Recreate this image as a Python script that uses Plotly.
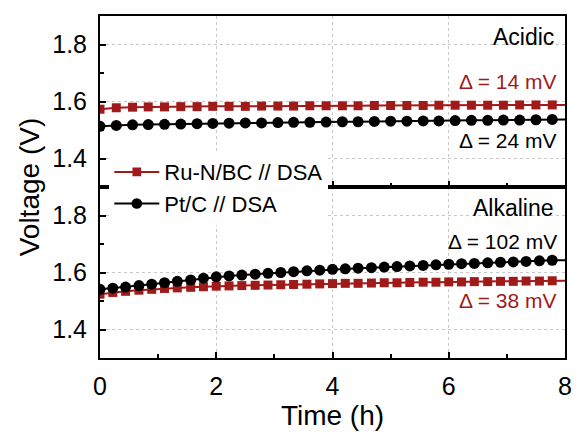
import plotly.graph_objects as go

# ---------------- data ----------------
t_acid = [0.00, 0.28, 0.56, 0.83, 1.11, 1.39, 1.67, 1.94, 2.22, 2.50, 2.78, 3.06, 3.33, 3.61, 3.89,
          4.17, 4.44, 4.72, 5.00, 5.28, 5.56, 5.83, 6.11, 6.39, 6.67, 6.94, 7.22, 7.50, 7.78, 8.00]
ru_acid = [1.573, 1.578, 1.580, 1.581, 1.581, 1.582, 1.582, 1.583, 1.583, 1.583, 1.584, 1.584, 1.584,
           1.585, 1.585, 1.585, 1.585, 1.586, 1.586, 1.586, 1.586, 1.587, 1.587, 1.587, 1.587, 1.587,
           1.588, 1.588, 1.588, 1.588]
pt_acid = [1.513, 1.516, 1.518, 1.519, 1.520, 1.521, 1.522, 1.523, 1.524, 1.525, 1.525, 1.526, 1.527,
           1.527, 1.528, 1.529, 1.529, 1.530, 1.531, 1.531, 1.532, 1.532, 1.533, 1.534, 1.534, 1.535,
           1.535, 1.536, 1.537, 1.537]

t_alk = [0.00, 0.22, 0.44, 0.67, 0.89, 1.11, 1.33, 1.56, 1.78, 2.00, 2.22, 2.44, 2.67, 2.89, 3.11,
         3.33, 3.56, 3.78, 4.00, 4.22, 4.44, 4.67, 4.89, 5.11, 5.33, 5.56, 5.78, 6.00, 6.22, 6.44,
         6.67, 6.89, 7.11, 7.33, 7.56, 7.78, 8.00]
ru_alk = [1.524, 1.530, 1.534, 1.538, 1.541, 1.544, 1.546, 1.548, 1.550, 1.552, 1.553, 1.554, 1.555,
          1.556, 1.557, 1.558, 1.559, 1.560, 1.561, 1.562, 1.562, 1.563, 1.564, 1.564, 1.565, 1.566,
          1.566, 1.567, 1.567, 1.568, 1.568, 1.569, 1.569, 1.570, 1.570, 1.571, 1.571]
pt_alk = [1.541, 1.545, 1.549, 1.554, 1.559, 1.564, 1.569, 1.574, 1.580, 1.585, 1.588, 1.591, 1.594,
          1.597, 1.600, 1.603, 1.606, 1.608, 1.611, 1.613, 1.615, 1.617, 1.619, 1.621, 1.623, 1.625,
          1.627, 1.629, 1.631, 1.632, 1.634, 1.636, 1.637, 1.639, 1.641, 1.643, 1.643]

series_names = ["Ru-N/BC // DSA", "Pt/C // DSA"]
panel_labels = ["Acidic", "Alkaline"]
delta_acid = ["Δ = 14 mV", "Δ = 24 mV"]
delta_alk = ["Δ = 38 mV", "Δ = 102 mV"]
x_ticks = [0, 2, 4, 6, 8]
y_ticks = [1.4, 1.6, 1.8]

RED = "#a11a1a"
BLACK = "#000000"
FONT = "Arial, Liberation Sans, sans-serif"

def sizes(n, s):
    # last point only carries the line to the panel edge
    return [s] * (n - 1) + [0]

def mk(symbol, n, s, color):
    return dict(symbol=symbol, size=sizes(n, s), color=color, opacity=1,
                line=dict(width=0, color=color))

fig = go.Figure()

# top panel (acidic)
fig.add_trace(go.Scatter(x=t_acid, y=ru_acid, mode="lines+markers", name=series_names[0],
                         line=dict(color=RED, width=2), marker=mk("square", len(t_acid), 9, RED),
                         xaxis="x2", yaxis="y2", legendrank=1))
fig.add_trace(go.Scatter(x=t_acid, y=pt_acid, mode="lines+markers", name=series_names[1],
                         line=dict(color=BLACK, width=2), marker=mk("circle", len(t_acid), 11, BLACK),
                         xaxis="x2", yaxis="y2", legendrank=2))
# bottom panel (alkaline)
fig.add_trace(go.Scatter(x=t_alk, y=ru_alk, mode="lines+markers", name=series_names[0],
                         line=dict(color=RED, width=2), marker=mk("square", len(t_alk), 9, RED),
                         xaxis="x", yaxis="y", showlegend=False))
fig.add_trace(go.Scatter(x=t_alk, y=pt_alk, mode="lines+markers", name=series_names[1],
                         line=dict(color=BLACK, width=2), marker=mk("circle", len(t_alk), 11, BLACK),
                         xaxis="x", yaxis="y", showlegend=False))

axis_common = dict(showline=True, linecolor="black", linewidth=2, mirror=True,
                   ticks="inside", ticklen=6, tickwidth=2, tickcolor="black",
                   showgrid=True, gridcolor="#c8c8c8", griddash="dot", gridwidth=1,
                   zeroline=False, tickfont=dict(family=FONT, size=25, color="black"))

fig.update_layout(
    width=581, height=432,
    margin=dict(l=100, r=9, t=16, b=71),
    paper_bgcolor="white", plot_bgcolor="white",
    font=dict(family=FONT, color="black"),
    xaxis=dict(axis_common, range=[0, 8], tickvals=x_ticks, anchor="y",
               minor=dict(ticks="inside", dtick=1, ticklen=4, tickwidth=2, tickcolor="black", showgrid=False),
               ticklabelstandoff=5,
               title=dict(text="Time (h)", font=dict(family=FONT, size=28), standoff=3)),
    xaxis2=dict(axis_common, range=[0, 8], tickvals=x_ticks, anchor="y2", matches="x",
                showticklabels=False,
                minor=dict(ticks="inside", dtick=1, ticklen=4, tickwidth=2, tickcolor="black", showgrid=False)),
    yaxis=dict(axis_common, range=[1.3, 1.9], tickvals=y_ticks, domain=[0, 0.5], anchor="x",
               tickformat=".1f", ticklabelstandoff=6,
               minor=dict(ticks="inside", tickvals=[1.3, 1.5, 1.7], ticklen=4, tickwidth=2,
                          tickcolor="black", showgrid=False)),
    yaxis2=dict(axis_common, range=[1.3, 1.9], tickvals=y_ticks, domain=[0.5, 1], anchor="x2",
                tickformat=".1f", ticklabelstandoff=6,
                minor=dict(ticks="inside", tickvals=[1.5, 1.7], ticklen=4, tickwidth=2,
                           tickcolor="black", showgrid=False)),
    legend=dict(x=0.02, y=0.605, xanchor="left", yanchor="top", bgcolor="white",
                borderwidth=0, font=dict(family=FONT, size=22), itemwidth=45,
                tracegroupgap=0),
    showlegend=True,
)

def ann(text, x, y, color, size):
    fig.add_annotation(text=text, xref="paper", yref="paper", x=x, y=y,
                       xanchor="right", yanchor="middle", showarrow=False,
                       font=dict(family=FONT, size=size, color=color))

ann(panel_labels[0], 0.981, 0.939, BLACK, 23)
ann(delta_acid[0], 0.987, 0.809, RED, 21)
ann(delta_acid[1], 0.987, 0.635, BLACK, 21)
ann(panel_labels[1], 0.981, 0.438, BLACK, 23)
ann(delta_alk[1], 0.987, 0.342, BLACK, 21)
ann(delta_alk[0], 0.987, 0.168, RED, 21)

fig.add_annotation(text="Voltage (V)", xref="paper", yref="paper", x=-0.152, y=0.5,
                   xanchor="center", yanchor="middle", textangle=-90, showarrow=False,
                   font=dict(family=FONT, size=28, color="black"))

fig.write_html("out.html")
